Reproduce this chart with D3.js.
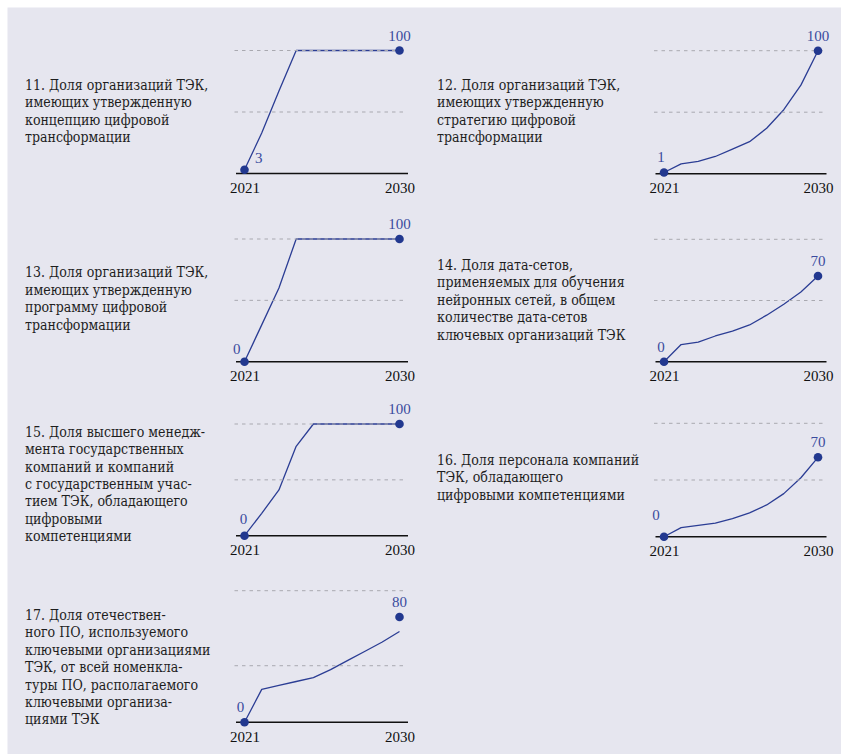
<!DOCTYPE html>
<html><head><meta charset="utf-8">
<script src="https://cdn.jsdelivr.net/npm/d3@7"></script>
<style>
html,body{margin:0;padding:0;background:#fff;}
svg{display:block;}
svg text{font-family:"Liberation Serif","Times New Roman",Times,serif;}
svg text.title{font-family:"DejaVu Serif Condensed","DejaVu Serif",serif;}
</style></head>
<body>
<svg id="chart" width="841" height="754"></svg>
<script>
// ---------- DATA ----------
const years = [2021, 2022, 2023, 2024, 2025, 2026, 2027, 2028, 2029, 2030];
const tickYears = [2021, 2030];
const panelTitles = [
  ["11. Доля организаций ТЭК,", "имеющих утвержденную", "концепцию цифровой", "трансформации"],
  ["12. Доля организаций ТЭК,", "имеющих утвержденную", "стратегию цифровой", "трансформации"],
  ["13. Доля организаций ТЭК,", "имеющих утвержденную", "программу цифровой", "трансформации"],
  ["14. Доля дата-сетов,", "применяемых для обучения", "нейронных сетей, в общем", "количестве дата-сетов", "ключевых организаций ТЭК"],
  ["15. Доля высшего менедж-", "мента государственных", "компаний и компаний", "с государственным учас-", "тием ТЭК, обладающего", "цифровыми", "компетенциями"],
  ["16. Доля персонала компаний", "ТЭК, обладающего", "цифровыми компетенциями"],
  ["17. Доля отечествен-", "ного ПО, используемого", "ключевыми организациями", "ТЭК, от всей номенкла-", "туры ПО, располагаемого", "ключевыми организа-", "циями ТЭК"]
];
const series11 = [3, 33, 67, 100, 100, 100, 100, 100, 100, 100];
const series12 = [1, 8, 10, 14, 20, 26, 37, 52, 72, 100];
const series13 = [0, 30, 60, 100, 100, 100, 100, 100, 100, 100];
const series14 = [0, 14, 16, 21, 25, 30, 38, 47, 57, 70];
const series15 = [0, 20, 41, 80, 100, 100, 100, 100, 100, 100];
const series16 = [0, 8, 10, 12, 16, 21, 28, 38, 52, 70];
const series17 = [0, 25, 28, 31, 34, 40, 47, 54, 61, 69];
const targets2030 = [100, 100, 100, 70, 100, 70, 80];
const gridValues = [[100, 50], [100, 50], [100, 50], [100, 50], [100, 50], [100, 50], [100, 43]];

const allSeries = [series11, series12, series13, series14, series15, series16, series17];

// ---------- LAYOUT ----------
const cols = [
  {x0: 244.5, x1: 399.5, textX: 25},
  {x0: 664, x1: 818, textX: 437}
];
const layout = [
  {col: 0, top: 50.5, base: 173.5, textY: 90,   sdx: 10.5, sdy: -6.5, sanchor: "start"},
  {col: 1, top: 50.7, base: 173.7, textY: 90,   sdx: -3,   sdy: -10.8, sanchor: "middle"},
  {col: 0, top: 239,  base: 361.7, textY: 277.3, sdx: -4,  sdy: -7.7, sanchor: "end"},
  {col: 1, top: 239.3, base: 361.7, textY: 270, sdx: -3,   sdy: -10, sanchor: "middle"},
  {col: 0, top: 424,  base: 535.7, textY: 436.7, sdx: -1,  sdy: -11.4, sanchor: "middle"},
  {col: 1, top: 423.3, base: 536.7, textY: 465, sdx: -8,   sdy: -16.7, sanchor: "middle"},
  {col: 0, top: 590.7, base: 722.3, textY: 620, sdx: -4,   sdy: -10.6, sanchor: "middle"}
];

const lineColor = "#2b3d94";
const dotColor = "#22388f";
const labelColor = "#3a4b9e";

const svg = d3.select("#chart");
svg.append("rect").attr("x", 7.5).attr("y", 7.5).attr("width", 841 - 7.5).attr("height", 754 - 7.5)
  .attr("fill", "#e6e6ef");

layout.forEach((L, i) => {
  const C = cols[L.col];
  const x = d3.scaleLinear().domain([2021, 2030]).range([C.x0, C.x1]);
  const y = d3.scaleLinear().domain([0, 100]).range([L.base, L.top]);
  const g = svg.append("g");

  const t = g.append("text").attr("class", "title").attr("x", C.textX).attr("y", L.textY)
    .attr("font-size", 14).attr("fill", "#1e1e1e");
  panelTitles[i].forEach((line, k) => {
    t.append("tspan").attr("x", C.textX).attr("y", L.textY + k * 17.4).text(line);
  });

  const data = years.map((yr, k) => ({yr, v: allSeries[i][k]}));
  g.append("path").datum(data)
    .attr("fill", "none").attr("stroke", lineColor).attr("stroke-width", 1.3)
    .attr("stroke-linejoin", "round")
    .attr("d", d3.line().x(d => x(d.yr)).y(d => y(d.v)).curve(d3.curveLinear));

  g.selectAll("line.grid").data(gridValues[i]).enter().append("line")
    .attr("x1", C.x0 - 10).attr("x2", C.x1 + 7)
    .attr("y1", d => y(d)).attr("y2", d => y(d))
    .attr("stroke", "#a9a9b0").attr("stroke-width", 1).attr("stroke-dasharray", "3.5,4");

  const axis = g.append("g").attr("transform", `translate(0,${L.base})`)
    .call(d3.axisBottom(x).tickValues(tickYears).tickSize(0).tickPadding(9).tickFormat(d3.format("d")));
  axis.attr("font-family", null);
  axis.select(".domain").remove();
  axis.selectAll("text").attr("font-size", 15).attr("fill", "#111");
  g.append("line").attr("x1", C.x0 - 8.5).attr("x2", C.x1 + 8.5)
    .attr("y1", L.base).attr("y2", L.base).attr("stroke", "#111").attr("stroke-width", 1.6);

  const startV = allSeries[i][0];
  const endV = targets2030[i];
  g.append("circle").attr("cx", x(2021)).attr("cy", y(startV)).attr("r", 4.3).attr("fill", dotColor);
  g.append("circle").attr("cx", x(2030)).attr("cy", y(endV)).attr("r", 4.3).attr("fill", dotColor);

  g.append("text").attr("x", x(2021) + L.sdx).attr("y", y(startV) + L.sdy)
    .attr("text-anchor", L.sanchor).attr("font-size", 15)
    .attr("fill", labelColor).text(startV);
  g.append("text").attr("x", x(2030)).attr("y", y(endV) - 10)
    .attr("text-anchor", "middle").attr("font-size", 15)
    .attr("fill", labelColor).text(endV);
});
</script>
</body></html>
